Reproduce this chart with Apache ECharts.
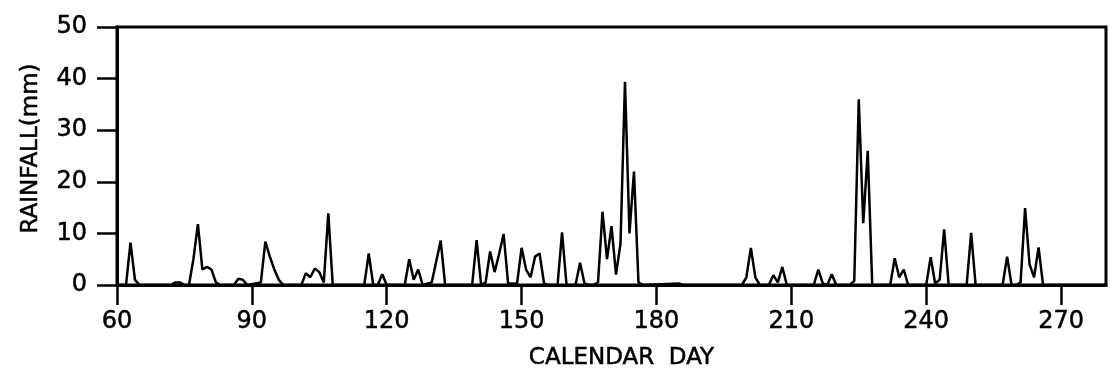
<!DOCTYPE html>
<html>
<head>
<meta charset="utf-8">
<script src="https://cdn.jsdelivr.net/npm/echarts@6/dist/echarts.min.js"></script>
<style>
html,body{margin:0;padding:0;background:#fff;}
#chart{width:1110px;height:381px;}
</style>
</head>
<body>
<div id="chart"></div>
<script>
// Calendar days and daily rainfall (mm)
const days = [60,62,63,64,65,72,73,74,75,76,77,78,79,80,81,82,83,86,87,88,89,
  92,93,94,95,96,97,101,102,103,104,105,106,107,108,115,116,117,118,119,120,
  124,125,126,127,128,130,131,132,133,139,140,141,142,143,144,145,146,147,148,149,
  150,151,152,153,154,155,156,158,159,160,162,163,164,165,166,167,168,169,170,171,
  172,173,174,175,176,177,185,186,199,200,201,202,203,205,206,207,208,209,215,216,
  217,218,219,220,223,224,225,226,227,228,232,233,234,235,236,240,241,242,243,244,
  245,249,250,251,257,258,259,260,261,262,263,264,265,266,280];
const rain = [0,0,8.2,1.0,0,0,0.5,0.5,0,0,5,11.8,3.0,3.5,3.0,0.5,0,0,1.2,1.0,0,
  0.5,8.4,5.5,3.0,1.0,0,0,2.3,1.5,3.2,2.5,0.5,13.9,0,0,6.1,0,0,2.1,0,
  0,5.0,1.0,3.0,0,0.5,4.5,8.6,0,0,8.7,0,0.5,6.5,2.5,6.0,9.9,0.3,0.3,0.3,
  7.2,3.0,1.5,5.5,6.1,0.3,0,0,10.2,0,0,4.3,0.3,0,0,0.5,14.2,5.0,11.4,2.0,
  8.0,39.4,10.0,22.0,0.5,0,0.3,0,0,1.5,7.2,1.5,0,0,1.9,0.5,3.5,0,0,3.0,
  0.3,0,2.1,0,0,0.8,36.0,12.0,26.0,0,0,5.2,1.5,3.0,0,0,5.4,0.3,1.0,10.8,
  0,0,10.1,0,0,5.5,0,0,0.5,14.9,4.0,1.5,7.3,0,0];
const xTicks = [60,90,120,150,180,210,240,270];
const yTicks = [0,10,20,30,40,50];
const xTitle = 'CALENDAR  DAY';
const yTitle = 'RAINFALL(mm)';

const FONT = 'DejaVu Sans';
const txt = {color:'#000',fontFamily:FONT,textBorderColor:'#000',textBorderWidth:0.5};
const chart = echarts.init(document.getElementById('chart'), null, {renderer:'canvas'});
const points = days.map((d,i)=>[d, rain[i]]);
chart.setOption({
  animation:false,
  backgroundColor:'#fff',
  grid:{left:117,right:4,top:27,bottom:96,show:true,borderColor:'#000',borderWidth:3,backgroundColor:'transparent'},
  xAxis:{
    type:'value',min:60,max:280,interval:30,
    name:xTitle,nameLocation:'middle',nameGap:62,
    nameTextStyle:Object.assign({},txt,{fontSize:23,padding:[0,0,0,20]}),
    axisLine:{show:true,onZero:false,lineStyle:{color:'#000',width:3}},
    axisTick:{show:true,inside:false,length:20,lineStyle:{color:'#000',width:2.5},customValues:xTicks},
    axisLabel:Object.assign({},txt,{fontSize:24,margin:25,customValues:xTicks}),
    splitLine:{show:false}
  },
  yAxis:{
    type:'value',min:0,max:50,interval:10,
    name:yTitle,nameLocation:'middle',nameGap:74,nameRotate:90,
    nameTextStyle:Object.assign({},txt,{fontSize:23,padding:[0,0,0,15]}),
    axisLine:{show:true,lineStyle:{color:'#000',width:3}},
    axisTick:{show:true,inside:false,length:20,lineStyle:{color:'#000',width:2.5},customValues:yTicks},
    axisLabel:Object.assign({},txt,{fontSize:24,margin:30,customValues:yTicks}),
    splitLine:{show:false}
  },
  series:[{
    type:'line',data:points,showSymbol:false,symbol:'none',
    lineStyle:{color:'#000',width:2.5},
    clip:true
  }]
});
</script>
</body>
</html>
